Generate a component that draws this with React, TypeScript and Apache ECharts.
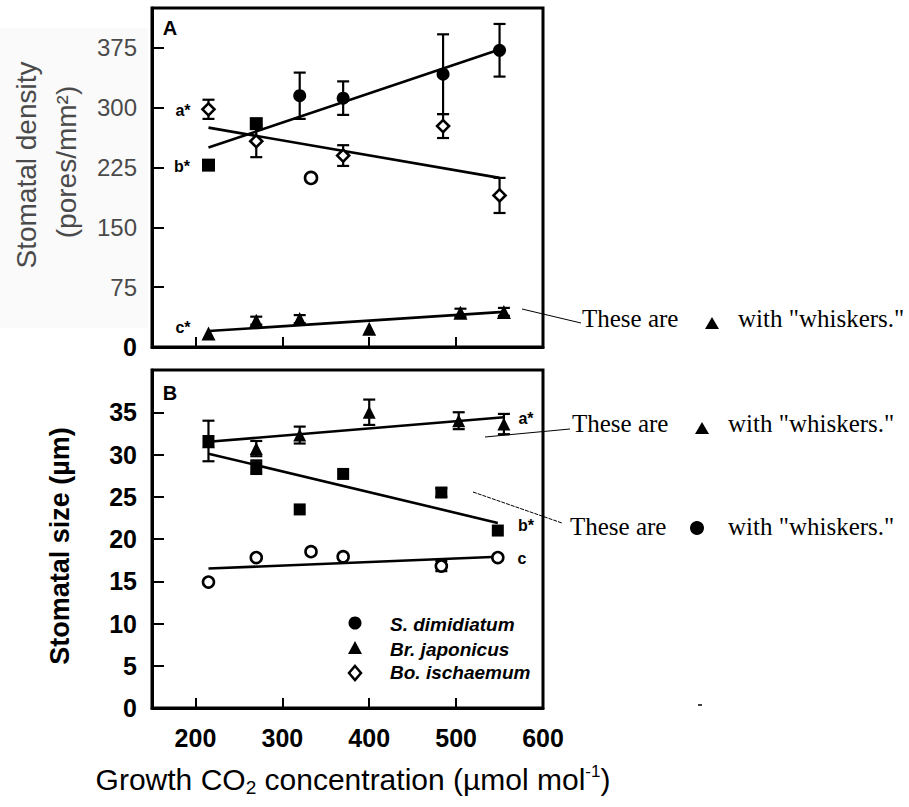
import React, { useEffect, useRef } from 'react';
import * as echarts from 'echarts';

// ---------------- Panel A: stomatal density (pores/mm2) ----------------
const densityDimCO2 = [215, 270, 320, 370, 485, 550];
const densityDim = [228, 280, 315, 312, 342, 372];
const densityDimErr = [0, 0, 29, 21, 50, 33];

const densityBoCO2 = [215, 270, 333, 370, 485, 550];
const densityBo = [298, 258, 212, 240, 277, 190];
const densityBoErr = [12, 20, 0, 13, 15, 22];

const densityBrCO2 = [215, 270, 320, 400, 505, 555];
const densityBr = [17, 33, 35, 23, 43, 44];
const densityBrErr = [0, 5, 5, 0, 5, 5];

const densityFitDim = [[215, 250], [550, 373]];
const densityFitBo = [[215, 275], [550, 212]];
const densityFitBr = [[215, 20], [555, 44]];

// ---------------- Panel B: stomatal size (µm) ----------------
const sizeDimCO2 = [215, 270, 320, 370, 483, 548];
const sizeDim = [31.6, 28.5, 23.5, 27.7, 25.5, 21.0];
const sizeDimErr = [2.4, 0.8, 0, 0, 0.5, 0];

const sizeBrCO2 = [215, 270, 320, 400, 503, 555];
const sizeBr = [31.5, 30.7, 32.3, 35.0, 34.0, 33.6];
const sizeBrErr = [0, 0.9, 1.0, 1.5, 1.0, 1.2];

const sizeBoCO2 = [215, 270, 333, 370, 483, 548];
const sizeBo = [14.9, 17.8, 18.5, 17.9, 16.8, 17.8];
const sizeBoErr = [0, 0, 0, 0, 0.6, 0];

const sizeFitBr = [[215, 31.5], [555, 34.4]];
const sizeFitDim = [[215, 30.1], [548, 21.9]];
const sizeFitBo = [[215, 16.5], [548, 17.9]];

// tick values
const xTickStep = 100;
const densityTickStep = 75;
const densityMax = 425;
const sizeTickStep = 5;
const sizeMax = 40;
const co2Min = 150;
const co2Max = 600;

const legendNames = ['S. dimidiatum', 'Br. japonicus', 'Bo. ischaemum'];

const FONT = '"Liberation Sans", Arial, Helvetica, sans-serif';
const SERIF = '"Liberation Serif", "Times New Roman", serif';

const errData = (xs: number[], ys: number[], es: number[]) =>
  xs.map((x, i) => [x, ys[i] - es[i], ys[i] + es[i]]).filter((_, i) => es[i] > 0);

const errSeries = (xs: number[], ys: number[], es: number[], gi: number) => ({
  type: 'custom',
  xAxisIndex: gi,
  yAxisIndex: gi,
  z: 3,
  silent: true,
  encode: { x: 0, y: [1, 2] },
  data: errData(xs, ys, es),
  renderItem: (params: any, api: any) => {
    const lo = api.coord([api.value(0), api.value(1)]);
    const hi = api.coord([api.value(0), api.value(2)]);
    const w = 6;
    const st = { stroke: '#000', lineWidth: 2.2 };
    return {
      type: 'group',
      children: [
        { type: 'line', shape: { x1: lo[0], y1: lo[1], x2: hi[0], y2: hi[1] }, style: st },
        { type: 'line', shape: { x1: lo[0] - w, y1: lo[1], x2: lo[0] + w, y2: lo[1] }, style: st },
        { type: 'line', shape: { x1: hi[0] - w, y1: hi[1], x2: hi[0] + w, y2: hi[1] }, style: st },
      ],
    };
  },
});

const fitSeries = (data: number[][], gi: number) => ({
  type: 'line',
  xAxisIndex: gi,
  yAxisIndex: gi,
  data,
  symbol: 'none',
  z: 2,
  silent: true,
  lineStyle: { color: '#000', width: 2.6, opacity: 1 },
});

const scatterSeries = (
  name: string,
  xs: number[],
  ys: number[],
  gi: number,
  symbolAt: (i: number) => string,
  size: number | number[],
  hollow: boolean
) => ({
  type: 'scatter',
  name,
  xAxisIndex: gi,
  yAxisIndex: gi,
  z: 4,
  data: xs.map((x, i) => ({ value: [x, ys[i]], symbol: symbolAt(i) })),
  symbolSize: size,
  itemStyle: hollow
    ? { color: '#fff', borderColor: '#000', borderWidth: 2.6, opacity: 1 }
    : { color: '#000', opacity: 1 },
});

const xAxisBase = (gi: number, showLabels: boolean) => ({
  gridIndex: gi,
  type: 'value',
  min: co2Min,
  max: co2Max,
  axisLine: { show: true, lineStyle: { color: '#000', width: 3 } },
  axisTick: { show: true, inside: true, length: 10, lineStyle: { color: '#000', width: 2 } },
  splitLine: { show: false },
  axisLabel: {
    show: showLabels,
    formatter: (v: number) => (v % xTickStep === 0 ? String(v) : ''),
    fontFamily: FONT,
    fontSize: 25,
    fontWeight: 'bold',
    color: '#000',
    margin: 17,
  },
});

const option: any = {
  animation: false,
  backgroundColor: '#fff',
  grid: [
    { left: 152, top: 8, width: 391, height: 339, show: true, borderColor: '#000', borderWidth: 3, backgroundColor: 'transparent' },
    { left: 152, top: 370, width: 391, height: 338, show: true, borderColor: '#000', borderWidth: 3, backgroundColor: 'transparent' },
  ],
  xAxis: [xAxisBase(0, false), xAxisBase(1, true)],
  yAxis: [
    {
      gridIndex: 0,
      type: 'value',
      min: 0,
      max: densityMax,
      interval: densityTickStep,
      axisLine: { show: true, lineStyle: { color: '#000', width: 3 } },
      axisTick: { show: true, inside: true, length: 12, lineStyle: { color: '#000', width: 2 } },
      splitLine: { show: false },
      axisLabel: {
        margin: 15,
        formatter: (v: number) => (v === 0 ? '{b|0}' : v > 375 ? '' : '{g|' + v + '}'),
        rich: {
          g: { fontFamily: FONT, fontSize: 24, color: '#4a4a4a' },
          b: { fontFamily: FONT, fontSize: 25, fontWeight: 'bold', color: '#000' },
        },
      },
    },
    {
      gridIndex: 1,
      type: 'value',
      min: 0,
      max: sizeMax,
      interval: sizeTickStep,
      axisLine: { show: true, lineStyle: { color: '#000', width: 3 } },
      axisTick: { show: true, inside: true, length: 12, lineStyle: { color: '#000', width: 2 } },
      splitLine: { show: false },
      axisLabel: {
        margin: 15,
        formatter: (v: number) => (v > 35 ? '' : String(v)),
        fontFamily: FONT,
        fontSize: 25,
        fontWeight: 'bold',
        color: '#000',
      },
    },
  ],
  series: [
    // Panel A
    fitSeries(densityFitDim, 0),
    fitSeries(densityFitBo, 0),
    fitSeries(densityFitBr, 0),
    errSeries(densityDimCO2, densityDim, densityDimErr, 0),
    errSeries(densityBoCO2, densityBo, densityBoErr, 0),
    errSeries(densityBrCO2, densityBr, densityBrErr, 0),
    scatterSeries(legendNames[0], densityDimCO2, densityDim, 0, (i) => (i < 2 ? 'rect' : 'circle'), 13, false),
    scatterSeries(legendNames[2], densityBoCO2, densityBo, 0, (i) => (i === 2 ? 'circle' : 'diamond'), 12, true),
    scatterSeries(legendNames[1], densityBrCO2, densityBr, 0, () => 'triangle', 14, false),
    // Panel B
    fitSeries(sizeFitBr, 1),
    fitSeries(sizeFitDim, 1),
    fitSeries(sizeFitBo, 1),
    errSeries(sizeDimCO2, sizeDim, sizeDimErr, 1),
    errSeries(sizeBrCO2, sizeBr, sizeBrErr, 1),
    errSeries(sizeBoCO2, sizeBo, sizeBoErr, 1),
    scatterSeries(legendNames[1], sizeBrCO2, sizeBr, 1, () => 'triangle', 13, false),
    scatterSeries(legendNames[0], sizeDimCO2, sizeDim, 1, () => 'rect', 12, false),
    scatterSeries(legendNames[2], sizeBoCO2, sizeBo, 1, () => 'circle', 11, true),
  ],
  graphic: [
    // faint scan tint behind panel A labels
    { type: 'rect', z: -10, shape: { x: 0, y: 28, width: 148, height: 300 }, style: { fill: '#fafafa' } },
    // panel letters
    { type: 'text', x: 170, y: 28, style: { text: 'A', font: 'bold 20px ' + FONT, fill: '#000', align: 'center', verticalAlign: 'middle' } },
    { type: 'text', x: 170, y: 393, style: { text: 'B', font: 'bold 20px ' + FONT, fill: '#000', align: 'center', verticalAlign: 'middle' } },
    // significance letters
    { type: 'text', x: 183, y: 110, style: { text: 'a*', font: 'bold 16px ' + FONT, fill: '#000', align: 'center', verticalAlign: 'middle' } },
    { type: 'text', x: 182, y: 166, style: { text: 'b*', font: 'bold 16px ' + FONT, fill: '#000', align: 'center', verticalAlign: 'middle' } },
    { type: 'text', x: 183, y: 327, style: { text: 'c*', font: 'bold 16px ' + FONT, fill: '#000', align: 'center', verticalAlign: 'middle' } },
    { type: 'text', x: 526, y: 418, style: { text: 'a*', font: 'bold 16px ' + FONT, fill: '#000', align: 'center', verticalAlign: 'middle' } },
    { type: 'text', x: 526, y: 525, style: { text: 'b*', font: 'bold 16px ' + FONT, fill: '#000', align: 'center', verticalAlign: 'middle' } },
    { type: 'text', x: 522, y: 558, style: { text: 'c', font: 'bold 16px ' + FONT, fill: '#000', align: 'center', verticalAlign: 'middle' } },
    // y-axis titles
    { type: 'text', x: 26, y: 165, rotation: Math.PI / 2, style: { text: 'Stomatal density', font: '28px ' + FONT, fill: '#4a4a4a', align: 'center', verticalAlign: 'middle' } },
    { type: 'text', x: 66, y: 162, rotation: Math.PI / 2, style: { text: '(pores/mm²)', font: '28px ' + FONT, fill: '#4a4a4a', align: 'center', verticalAlign: 'middle' } },
    { type: 'text', x: 60, y: 546, rotation: Math.PI / 2, style: { text: 'Stomatal size (µm)', font: 'bold 27px ' + FONT, fill: '#000', align: 'center', verticalAlign: 'middle' } },
    // x-axis title
    {
      type: 'text',
      x: 353,
      y: 779,
      style: {
        text: 'Growth CO{sub|2} concentration (µmol mol{sup|-1})',
        font: '30px ' + FONT,
        fill: '#000',
        align: 'center',
        verticalAlign: 'middle',
        rich: {
          sub: { fontFamily: FONT, fontSize: 19, padding: [16, 0, 0, 0] },
          sup: { fontFamily: FONT, fontSize: 17, padding: [0, 0, 16, 0] },
        },
      },
    },
    // legend
    { type: 'circle', shape: { cx: 355, cy: 623, r: 6.5 }, style: { fill: '#000' } },
    { type: 'polygon', shape: { points: [[348, 654], [362, 654], [355, 641]] }, style: { fill: '#000' } },
    { type: 'polygon', shape: { points: [[355, 666], [361, 673], [355, 680], [349, 673]] }, style: { fill: '#fff', stroke: '#000', lineWidth: 2.5 } },
    { type: 'text', x: 390, y: 624, style: { text: legendNames[0], font: 'italic bold 19px ' + FONT, fill: '#000', verticalAlign: 'middle' } },
    { type: 'text', x: 390, y: 649, style: { text: legendNames[1], font: 'italic bold 19px ' + FONT, fill: '#000', verticalAlign: 'middle' } },
    { type: 'text', x: 390, y: 672, style: { text: legendNames[2], font: 'italic bold 19px ' + FONT, fill: '#000', verticalAlign: 'middle' } },
    // annotations
    { type: 'line', shape: { x1: 522, y1: 309, x2: 581, y2: 323 }, style: { stroke: '#000', lineWidth: 1 } },
    { type: 'text', x: 582, y: 318, style: { text: 'These are', font: '25px ' + SERIF, fill: '#000', verticalAlign: 'middle' } },
    { type: 'polygon', shape: { points: [[705, 329], [719, 329], [712, 317]] }, style: { fill: '#000' } },
    { type: 'text', x: 738, y: 318, style: { text: 'with "whiskers."', font: '25px ' + SERIF, fill: '#000', verticalAlign: 'middle' } },

    { type: 'line', shape: { x1: 485, y1: 437, x2: 570, y2: 429 }, style: { stroke: '#000', lineWidth: 1 } },
    { type: 'text', x: 572, y: 423, style: { text: 'These are', font: '25px ' + SERIF, fill: '#000', verticalAlign: 'middle' } },
    { type: 'polygon', shape: { points: [[695, 434], [709, 434], [702, 422]] }, style: { fill: '#000' } },
    { type: 'text', x: 728, y: 423, style: { text: 'with "whiskers."', font: '25px ' + SERIF, fill: '#000', verticalAlign: 'middle' } },

    { type: 'line', shape: { x1: 473, y1: 492, x2: 562, y2: 523 }, style: { stroke: '#000', lineWidth: 1, lineDash: [4, 1] } },
    { type: 'text', x: 570, y: 526, style: { text: 'These are', font: '25px ' + SERIF, fill: '#000', verticalAlign: 'middle' } },
    { type: 'circle', shape: { cx: 697, cy: 528, r: 7 }, style: { fill: '#000' } },
    { type: 'text', x: 728, y: 526, style: { text: 'with "whiskers."', font: '25px ' + SERIF, fill: '#000', verticalAlign: 'middle' } },

    // stray mark in the scan
    { type: 'line', shape: { x1: 698, y1: 705, x2: 702, y2: 705 }, style: { stroke: '#000', lineWidth: 1.5 } },
  ],
};

export default function App() {
  const ref = useRef<HTMLDivElement>(null);
  useEffect(() => {
    if (!ref.current) return;
    const chart = echarts.init(ref.current, null, { renderer: 'svg' });
    chart.setOption(option);
    return () => chart.dispose();
  }, []);
  return (
    <div
      ref={ref}
      style={{ position: 'absolute', left: 0, top: 0, width: 909, height: 807, background: '#fff' }}
    />
  );
}
